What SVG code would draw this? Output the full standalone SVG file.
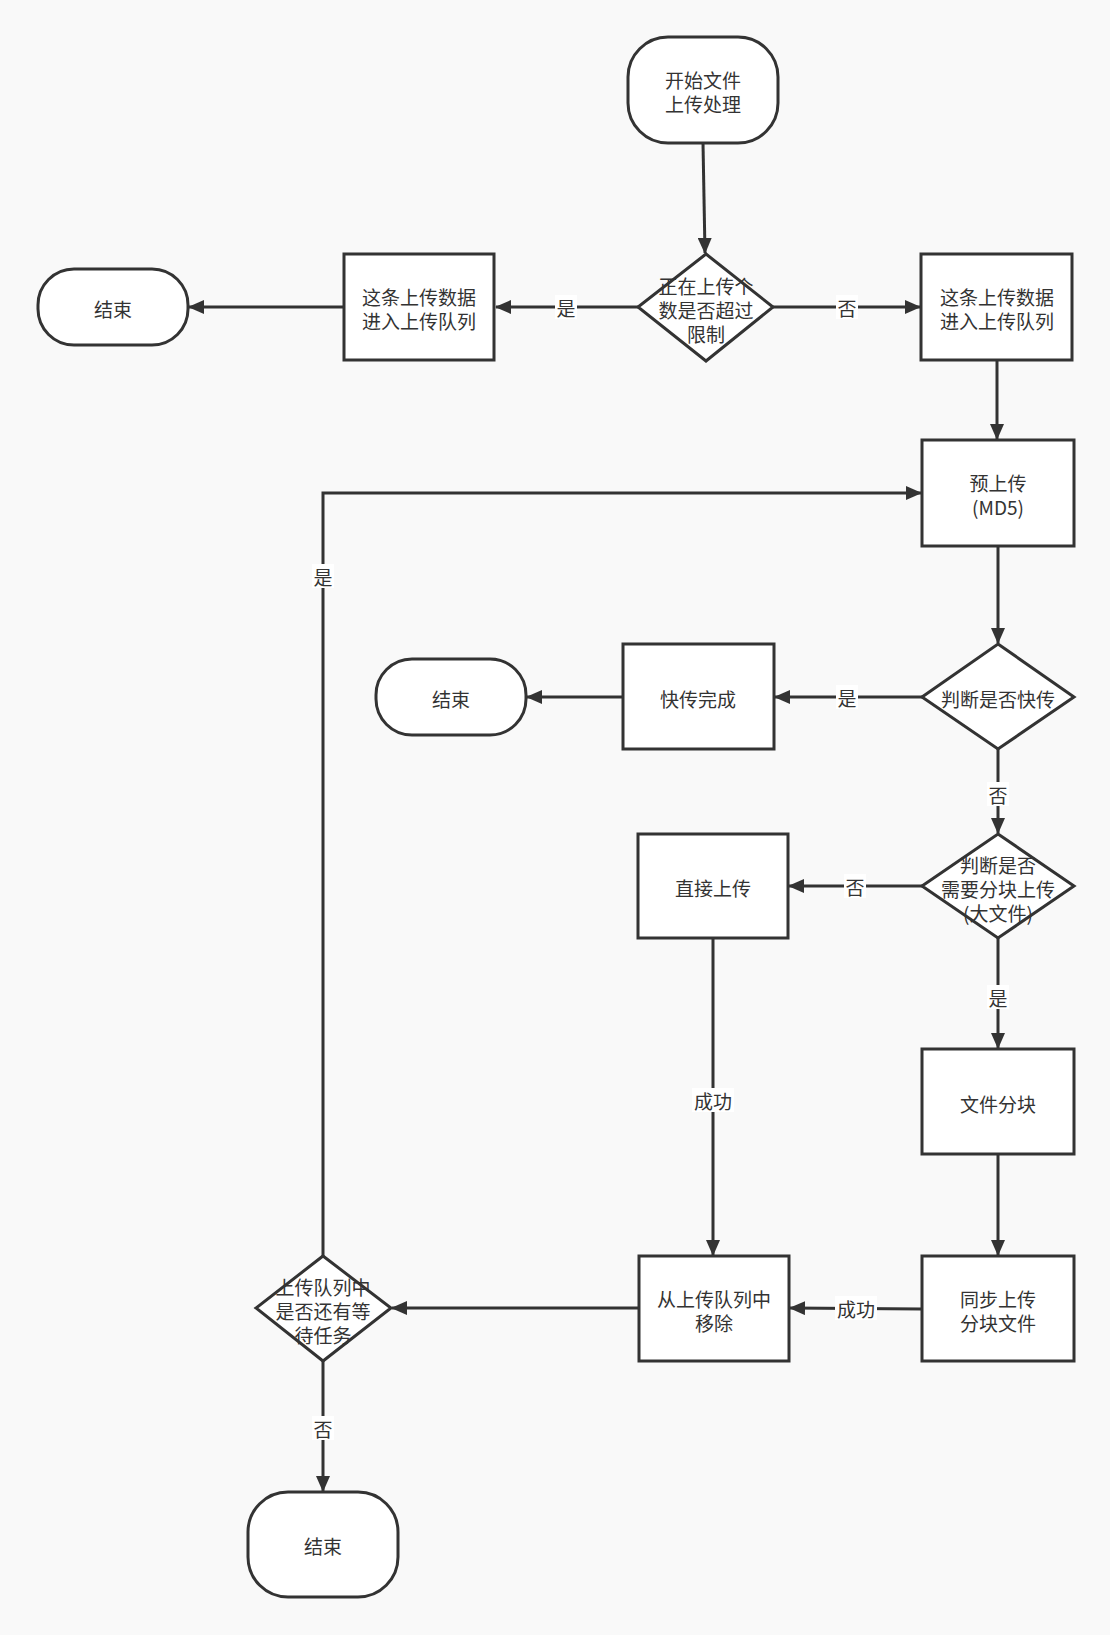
<svg xmlns="http://www.w3.org/2000/svg" width="1110" height="1635" viewBox="0 0 1110 1635">
<defs>
<marker id="arr" markerUnits="userSpaceOnUse" markerWidth="16" markerHeight="14" refX="15" refY="7" orient="auto">
<path d="M0,0 L16,7 L0,14 Z" fill="#333"/>
</marker>
<style>
.n{fill:#fff;stroke:#333;stroke-width:3}
.t{font-family:"Noto Sans CJK SC","Noto Sans",sans-serif;font-size:19px;fill:#333;text-anchor:middle;dominant-baseline:central}
.e{fill:none;stroke:#333;stroke-width:3;marker-end:url(#arr)}
.lb{fill:#fff}
</style>
</defs>
<rect width="1110" height="1635" fill="#f9f9f9"/>
<g id="connectors">
<path class="e" d="M703,143 L705,253"/>
<path class="e" d="M638,307 L496,307"/>
<path class="e" d="M343,307 L189,307"/>
<path class="e" d="M773,307 L920,307"/>
<path class="e" d="M997,361 L997,439"/>
<path class="e" d="M998,545 L998,643"/>
<path class="e" d="M922,697 L775,697"/>
<path class="e" d="M623,697 L527,697"/>
<path class="e" d="M998,749 L998,833"/>
<path class="e" d="M922,886 L789,886"/>
<path class="e" d="M998,938 L998,1048"/>
<path class="e" d="M998,1154 L998,1255"/>
<path class="e" d="M922,1309 L790,1308"/>
<path class="e" d="M713,938 L713,1255"/>
<path class="e" d="M639,1308 L392,1308"/>
<path class="e" d="M323,1256 L323,493 L921,493"/>
<path class="e" d="M323,1361 L323,1491"/>
<g id="labels">
<rect class="lb" x="555" y="295" width="22" height="24"/><text class="t" x="566" y="307">是</text>
<rect class="lb" x="836" y="295" width="22" height="24"/><text class="t" x="847" y="307">否</text>
<rect class="lb" x="836" y="685" width="22" height="24"/><text class="t" x="847" y="697">是</text>
<rect class="lb" x="987" y="782" width="22" height="24"/><text class="t" x="998" y="794">否</text>
<rect class="lb" x="844" y="874" width="22" height="24"/><text class="t" x="855" y="886">否</text>
<rect class="lb" x="987" y="985" width="22" height="24"/><text class="t" x="998" y="997">是</text>
<rect class="lb" x="835" y="1296" width="42" height="24"/><text class="t" x="856" y="1308">成功</text>
<rect class="lb" x="692" y="1088" width="42" height="24"/><text class="t" x="713" y="1100">成功</text>
<rect class="lb" x="312" y="564" width="22" height="24"/><text class="t" x="323" y="576">是</text>
<rect class="lb" x="312" y="1416" width="22" height="24"/><text class="t" x="323" y="1428">否</text>
</g>
</g>
<g id="start">
<rect class="n" x="628" y="37" width="150" height="106" rx="40" ry="40"/>
<text class="t" x="703" y="79">开始文件</text>
<text class="t" x="703" y="103">上传处理</text>
</g>
<g id="d1">
<polygon class="n" points="706,254 773,307 706,361 638,307"/>
<text class="t" x="706" y="285">正在上传个</text>
<text class="t" x="706" y="309">数是否超过</text>
<text class="t" x="706" y="333">限制</text>
</g>
<g id="queueLeft">
<rect class="n" x="344" y="254" width="150" height="106"/>
<text class="t" x="419" y="296">这条上传数据</text>
<text class="t" x="419" y="320">进入上传队列</text>
</g>
<g id="end1">
<rect class="n" x="38" y="269" width="150" height="76" rx="36" ry="36"/>
<text class="t" x="113" y="308">结束</text>
</g>
<g id="queueRight">
<rect class="n" x="921" y="254" width="151" height="106"/>
<text class="t" x="997" y="296">这条上传数据</text>
<text class="t" x="997" y="320">进入上传队列</text>
</g>
<g id="preUpload">
<rect class="n" x="922" y="440" width="152" height="106"/>
<text class="t" x="998" y="482">预上传</text>
<text class="t" x="998" y="506">(MD5)</text>
</g>
<g id="d2">
<polygon class="n" points="998,644 1074,697 998,749 922,697"/>
<text class="t" x="998" y="698">判断是否快传</text>
</g>
<g id="fastDone">
<rect class="n" x="623" y="644" width="151" height="105"/>
<text class="t" x="698" y="698">快传完成</text>
</g>
<g id="end2">
<rect class="n" x="376" y="659" width="150" height="76" rx="36" ry="36"/>
<text class="t" x="451" y="698">结束</text>
</g>
<g id="d3">
<polygon class="n" points="998,834 1074,886 998,938 922,886"/>
<text class="t" x="998" y="864">判断是否</text>
<text class="t" x="998" y="888">需要分块上传</text>
<text class="t" x="998" y="912">(大文件)</text>
</g>
<g id="direct">
<rect class="n" x="638" y="834" width="150" height="104"/>
<text class="t" x="713" y="887">直接上传</text>
</g>
<g id="split">
<rect class="n" x="922" y="1049" width="152" height="105"/>
<text class="t" x="998" y="1103">文件分块</text>
</g>
<g id="syncUpload">
<rect class="n" x="922" y="1256" width="152" height="105"/>
<text class="t" x="998" y="1298">同步上传</text>
<text class="t" x="998" y="1322">分块文件</text>
</g>
<g id="remove">
<rect class="n" x="639" y="1256" width="150" height="105"/>
<text class="t" x="714" y="1298">从上传队列中</text>
<text class="t" x="714" y="1322">移除</text>
</g>
<g id="d4">
<polygon class="n" points="323,1256 391,1308 323,1361 256,1308"/>
<text class="t" x="323" y="1286">上传队列中</text>
<text class="t" x="323" y="1310">是否还有等</text>
<text class="t" x="323" y="1334">待任务</text>
</g>
<g id="end3">
<rect class="n" x="248" y="1492" width="150" height="105" rx="40" ry="40"/>
<text class="t" x="323" y="1545">结束</text>
</g>
</svg>
